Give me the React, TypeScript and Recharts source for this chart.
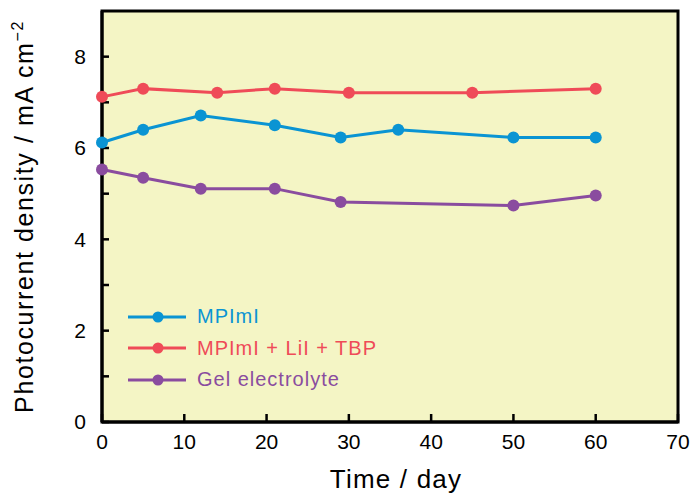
import { LineChart, Line, XAxis, YAxis, ReferenceArea } from 'recharts';

const xTicks = [0, 10, 20, 30, 40, 50, 60, 70];
const yTicks = [0, 1, 2, 3, 4, 5, 6, 7, 8];

const mpimiDays = [0, 5, 12, 21, 29, 36, 50, 60];
const mpimiValues = [6.12, 6.4, 6.71, 6.5, 6.23, 6.4, 6.23, 6.23];

const liDays = [0, 5, 14, 21, 30, 45, 60];
const liValues = [7.12, 7.3, 7.21, 7.3, 7.21, 7.21, 7.3];

const gelDays = [0, 5, 12, 21, 29, 50, 60];
const gelValues = [5.53, 5.35, 5.11, 5.11, 4.82, 4.74, 4.96];

const toPoints = (days: number[], vals: number[]) => days.map((d, i) => ({ day: d, value: vals[i] }));

const series = [
    { name: 'MPImI', color: '#0a94d3', data: toPoints(mpimiDays, mpimiValues) },
    { name: 'MPImI + LiI + TBP', color: '#ef4b58', data: toPoints(liDays, liValues) },
    { name: 'Gel electrolyte', color: '#8a4c9f', data: toPoints(gelDays, gelValues) },
];

const FONT = '"Liberation Sans", Arial, sans-serif';

function YLabel(props: any) {
    const { viewBox } = props;
    const cx = 33;
    const cy = viewBox.y + viewBox.height / 2;
    return (
        <text x={cx} y={cy} transform={`rotate(-90 ${cx} ${cy})`} textAnchor="middle"
            fontSize={25} letterSpacing={1.6} fill="#000" fontFamily={FONT}>
            Photocurrent density / mA cm<tspan dy={-10} fontSize={16}>−2</tspan>
        </text>
    );
}

// legend sits inside the plot, lower left
function LegendBox() {
    return (
        <div style={{ position: 'absolute', left: 128, top: 301, fontFamily: FONT }}>
            {series.map((s) => (
                <div key={s.name} style={{ display: 'flex', alignItems: 'center', height: 31.5 }}>
                    <svg width={59} height={14} style={{ marginRight: 10 }}>
                        <line x1={0} y1={7} x2={58} y2={7} stroke={s.color} strokeWidth={3} />
                        <circle cx={30} cy={7} r={5.5} fill={s.color} />
                    </svg>
                    <span style={{ color: s.color, fontSize: 20, letterSpacing: 1, whiteSpace: 'nowrap' }}>{s.name}</span>
                </div>
            ))}
        </div>
    );
}

export default function App() {
    return (
        <div style={{ position: 'absolute', left: 0, top: 0, background: '#fff' }}>
            <LineChart width={693} height={494} margin={{ top: 11, right: 15, bottom: 0, left: 0 }}>
                <ReferenceArea x1={0} x2={70} y1={0} y2={9} fill="#f4f5c5" fillOpacity={1} stroke="#000" strokeWidth={3} />
                <XAxis
                    type="number"
                    dataKey="day"
                    domain={[0, 70]}
                    ticks={xTicks}
                    allowDuplicatedCategory={false}
                    height={72}
                    axisLine={{ stroke: '#000', strokeWidth: 3 }}
                    tickLine={{ stroke: '#000', strokeWidth: 2.5 }}
                    tickSize={-8}
                    tickMargin={20}
                    fontSize={21}
                    fontFamily={FONT}
                    tick={{ fill: '#000', fontSize: 21 }}
                    label={{ value: 'Time / day', position: 'insideBottom', offset: 6, dx: 6, fontSize: 26, letterSpacing: 1.2, fill: '#000', fontFamily: FONT }}
                />
                <YAxis
                    type="number"
                    domain={[0, 9]}
                    ticks={yTicks}
                    width={102}
                    axisLine={{ stroke: '#000', strokeWidth: 3 }}
                    tickLine={{ stroke: '#000', strokeWidth: 2.5 }}
                    tickSize={-7}
                    tickMargin={23}
                    fontSize={21}
                    fontFamily={FONT}
                    tickFormatter={(v: number) => (v % 2 === 0 ? String(v) : '')}
                    tick={{ fill: '#000', fontSize: 21 }}
                    label={<YLabel />}
                />
                {series.map((s) => (
                    <Line
                        key={s.name}
                        name={s.name}
                        data={s.data}
                        dataKey="value"
                        type="linear"
                        stroke={s.color}
                        strokeWidth={3}
                        dot={{ r: 6, fill: s.color, stroke: s.color, strokeWidth: 0 }}
                        activeDot={false}
                        isAnimationActive={false}
                    />
                ))}
            </LineChart>
            <LegendBox />
        </div>
    );
}
